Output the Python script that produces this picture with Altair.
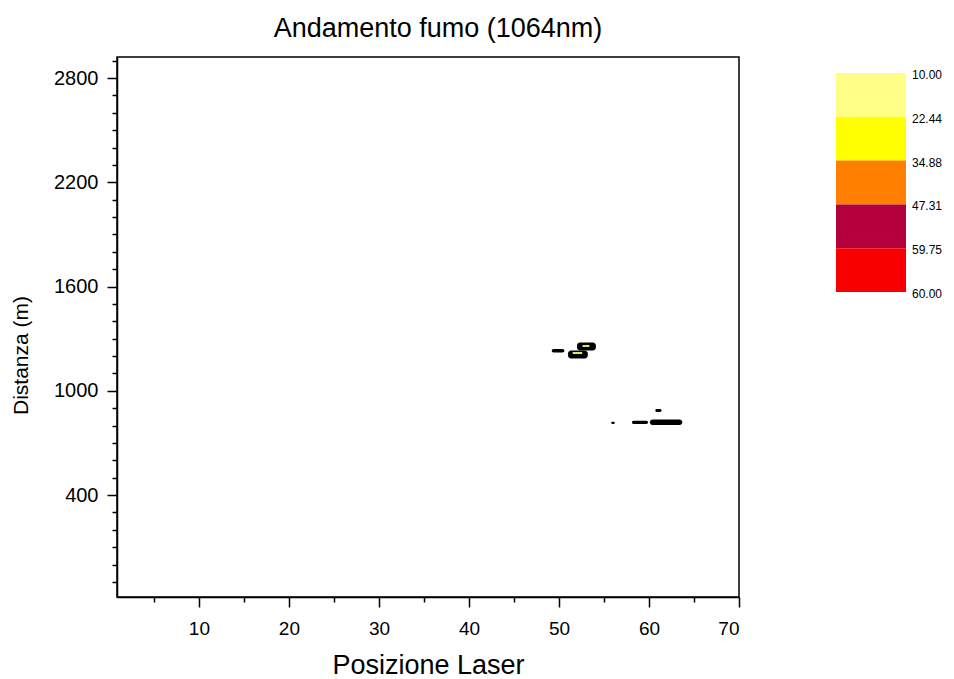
import altair as alt
import pandas as pd

# Smoke contour regions (black filled contours), position / distance extents
blob_x0 = [49.2, 52.0, 51.0, 55.8, 58.1, 60.1, 60.7]
blob_x1 = [50.6, 54.1, 53.2, 56.2, 59.9, 63.7, 61.4]
blob_y0 = [1220, 1232, 1185, 809, 809, 803, 878]
blob_y1 = [1240, 1278, 1232, 822, 828, 834, 895]

# Bright cores inside the two upper contours
core_x0 = [52.6, 51.5]
core_x1 = [53.4, 52.6]
core_y0 = [1252, 1211]
core_y1 = [1263, 1223]

# Contour levels and their fill colours
level_labels = ["10.00", "22.44", "34.88", "47.31", "59.75", "60.00"]
level_colors = ["#ffff88", "#ffff00", "#ff8000", "#b4003c", "#f80000"]

x_ticks = list(range(5, 71, 5))
y_ticks = list(range(-100, 3000, 100))

FONT = "Liberation Sans"
W, H = 622, 540

# Contours first, cores after so they are drawn on top
regions = pd.DataFrame({
    "x0": blob_x0 + core_x0,
    "x1": blob_x1 + core_x1,
    "y0": blob_y0 + core_y0,
    "y1": blob_y1 + core_y1,
    "kind": ["contour"] * len(blob_x0) + ["core"] * len(core_x0),
})

x_scale = alt.Scale(domain=[0.9, 70], nice=False, zero=False)
y_scale = alt.Scale(domain=[-187, 2921], nice=False, zero=False)

x_axis = alt.Axis(
    values=x_ticks,
    format="d",
    labelExpr="datum.value % 10 == 0 ? datum.label : ''",
    tickSize={"condition": {"test": "datum.value % 10 == 0", "value": 10}, "value": 5},
    labelOverlap=False,
    tickColor="black", tickWidth=1.5, domainColor="black", domainWidth=1.5,
    labelFont=FONT, labelFontSize=19, labelColor="black", labelPadding=12,
    title="Posizione Laser", titleFont=FONT, titleFontSize=27,
    titleFontWeight="normal", titleColor="black", titlePadding=14, grid=False,
)
y_axis = alt.Axis(
    values=y_ticks,
    format="d",
    labelExpr="datum.value % 600 == 400 ? datum.label : ''",
    tickSize={"condition": {"test": "datum.value % 600 == 400", "value": 10}, "value": 5},
    labelOverlap=False,
    tickColor="black", tickWidth=1.5, domainColor="black", domainWidth=1.5,
    labelFont=FONT, labelFontSize=20, labelColor="black", labelPadding=9,
    title="Distanza (m)", titleFont=FONT, titleFontSize=21, titleY=298,
    titleFontWeight="normal", titleColor="black", titlePadding=22, grid=False,
)

plot = alt.Chart(regions).mark_rect(cornerRadius=3).encode(
    x=alt.X("x0:Q", scale=x_scale, axis=x_axis),
    x2="x1:Q",
    y=alt.Y("y0:Q", scale=y_scale, axis=y_axis),
    y2="y1:Q",
    color=alt.Color("kind:N", scale=alt.Scale(domain=["contour", "core"], range=["black", "#e6e65a"]), legend=None),
)

# Colour bar for the contour levels, placed to the right of the plot
bands = pd.DataFrame({
    "i0": list(range(5)),
    "i1": list(range(1, 6)),
    "level": level_labels[:5],
})
marks = pd.DataFrame({"i": list(range(6)), "label": level_labels})

lx = alt.Scale(domain=[0, 1], range=[719, 789])
ly = alt.Scale(domain=[0, 5], range=[16, 235])

bar = alt.Chart(bands).mark_rect().encode(
    x=alt.X("a:Q", scale=lx, axis=None),
    x2="b:Q",
    y=alt.Y("i0:Q", scale=ly, axis=None),
    y2="i1:Q",
    color=alt.Color("level:N", scale=alt.Scale(domain=level_labels[:5], range=level_colors), legend=None),
).transform_calculate(a="0", b="1")

bar_text = alt.Chart(marks).mark_text(
    align="left", baseline="middle", dx=6, dy=2, font=FONT, fontSize=12, color="black"
).encode(
    x=alt.X("a:Q", scale=lx, axis=None),
    y=alt.Y("i:Q", scale=ly, axis=None),
    text="label:N",
).transform_calculate(a="1")

colorbar = alt.layer(bar, bar_text)

chart = alt.layer(plot, colorbar).resolve_scale(
    x="independent", y="independent", color="independent"
).properties(
    width=W,
    height=H,
    background="white",
    title=alt.TitleParams(
        "Andamento fumo (1064nm)", font=FONT, fontSize=27, fontWeight="normal",
        color="black", anchor="middle", offset=8, dx=10,
    ),
    autosize=alt.AutoSizeParams(type="none"),
    padding={"left": 117, "top": 57, "right": 215, "bottom": 82},
).configure_view(stroke="black", strokeWidth=1.5)

chart.save("out.html", embed_options={"renderer": "svg", "actions": False})
